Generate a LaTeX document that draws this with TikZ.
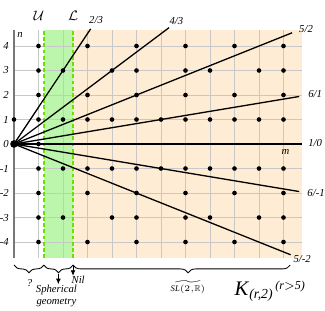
\documentclass[tikz,border=0pt]{standalone}
\usepackage{amsmath,amssymb}
\usepackage{fontspec}
\setmainfont{Liberation Serif}
\usepackage{tikz}
\usetikzlibrary{positioning,arrows.meta,decorations.pathreplacing}
\definecolor{bandgreen}{RGB}{188,246,172}
\definecolor{bandorange}{RGB}{254,236,212}
\definecolor{dashgreen}{RGB}{112,222,0}
\definecolor{gridgray}{RGB}{200,200,200}
\definecolor{axisgray}{RGB}{120,120,120}
\tikzset{
  lbl/.style   = {font=\fontsize{6.2}{7.5}\selectfont\itshape, inner sep=0pt, align=center},
  gridln/.style= {draw=gridgray, line width=0.5pt},
  bound/.style = {draw=dashgreen, line width=1pt, dash pattern=on 2.2pt off 1.4pt},
  ray/.style   = {draw=black, line width=0.75pt},
  brc/.style   = {decorate, decoration={brace, mirror, amplitude=4.5pt}, line width=0.5pt},
  tip/.style   = {-{Latex[length=3.2pt,width=2.8pt]}, line width=0.5pt},
}

\begin{document}
\begin{tikzpicture}[x=0.5cm,y=0.5cm]
  \useasboundingbox (-0.571,-6.776) rectangle (12.694,5.878);
  % bands
  \fill[bandgreen] (1.22,-4.65) rectangle (2.41,4.65);
  \fill[bandorange] (2.41,-4.65) rectangle (11.75,4.65);
  \foreach \m in {1,...,11} \draw[gridln] (\m,-4.65) -- (\m,4.65);
  \foreach \n in {-4,...,4} \draw[gridln] (0,\n) -- (11.75,\n);
  \draw[bound] (1.22,-4.65) -- (1.22,4.65);
  \draw[bound] (2.41,-4.65) -- (2.41,4.65);
  \draw[draw=axisgray, line width=1pt] (0,-4.65) -- (0,4.65);
  \node[lbl] (nlab) at (0.245,4.45) {n};
  \node[lbl] (mlab) at (11.08,-0.31) {m};
  \node[inner sep=0pt, font=\footnotesize] (U) at (1.02,5.22) {$\mathcal{U}$};
  \node[inner sep=0pt, font=\footnotesize] (L) at (2.41,5.22) {$\mathcal{L}$};
  \foreach \n in {-4,...,4} \node[lbl, anchor=east] (tick\n) at (-0.2,\n) {\n};

  % rays through the origin
  \coordinate (O) at (0,0);
  \coordinate (r23) at (3.13,4.70);
  \coordinate (r43) at (6.33,4.75);
  \coordinate (r52) at (11.35,4.54);
  \coordinate (r61) at (11.64,1.94);
  \coordinate (r10) at (11.75,0);
  \coordinate (r6m1) at (11.64,-1.94);
  \coordinate (r5m2) at (11.29,-4.52);
  \foreach \e in {r23,r43,r52,r61,r10,r6m1,r5m2} \draw[ray] (O) -- (\e);
  \node[lbl] (l23) at (3.35,5.06) {2/3};
  \node[lbl] (l43) at (6.63,5.04) {4/3};
  \node[lbl] (l52) at (11.92,4.71) {5/2};
  \node[lbl] (l61) at (12.29,2.06) {6/1};
  \node[lbl] (l10) at (12.29,0.04) {1/0};
  \node[lbl] (l6m1) at (12.33,-2.0) {6/-1};
  \node[lbl] (l5m2) at (11.76,-4.69) {5/-2};

  % lattice points with gcd(m,n)=1
  \foreach \m in {1,...,11}
    \foreach \n in {-4,-3,-2,-1,1,2,3,4} {
      \pgfmathtruncatemacro\g{gcd(\m,abs(\n))}
      \ifnum\g=1 \fill (\m,\n) circle (1.35pt); \fi
    }
  \fill (1,0) circle (1.35pt);
  \fill (0,1) circle (1.35pt);
  \fill (O) circle (2.2pt);

  % braces
  \coordinate (b0) at (0,-4.94);
  \coordinate (b1) at (1.22,-4.94);
  \coordinate (b2) at (2.41,-4.94);
  \coordinate (b3) at (11.27,-4.94);
  \draw[brc] (b0) -- (b1);
  \draw[brc] (b1) -- (b2);
  \draw[brc, decoration={aspect=0.53}] (b2) -- (b3);
  \node[lbl] (qm) at (0.63,-5.67) {?};
  \coordinate (t2) at (1.81,-5.3);
  \node[lbl] (sph) at (1.73,-6.2) {Spherical\\geometry};
  \draw[tip] (t2) -- (t2 |- sph.north);
  \coordinate (nilend) at (2.41,-5.38);
  \draw[tip] (b2) -- (nilend);
  \node[lbl] (nil) at (2.62,-5.56) {Nil};
  \node[inner sep=0pt, font=\tiny] (sl) at (7.1,-5.85) {$\widetilde{\textit{SL}(2{,}\mathbb{R})}$};
  \node[inner sep=0pt, font=\large] (K) at (9.8,-6.04) {\textit{K}$_{\textit{(r,2)}}$};
  \node[inner sep=0pt, font=\scriptsize] (rc) at (11.27,-5.84) {\textit{(r}$>$\textit{5)}};
\end{tikzpicture}
\end{document}
